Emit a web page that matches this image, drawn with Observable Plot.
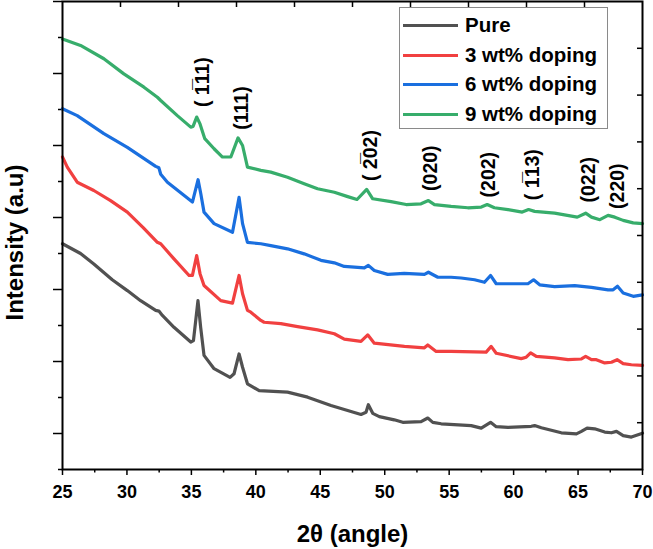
<!DOCTYPE html>
<html><head><meta charset="utf-8">
<script src="https://cdn.jsdelivr.net/npm/d3@7"></script>
<script src="https://cdn.jsdelivr.net/npm/@observablehq/plot@0.6"></script>
<style>
body{margin:0;background:#fff;font-family:"Liberation Sans",Arial,sans-serif;}
#wrap{position:relative;width:653px;height:549px;}
#legend{position:absolute;left:399px;top:7px;width:209px;height:122px;border:1px solid #8a8a8a;background:#fff;box-sizing:border-box;}
.row{position:absolute;left:0;height:20px;width:205px;}
.sw{position:absolute;left:3px;width:55px;height:3px;top:8.5px;}
.lab{position:absolute;left:65px;top:0;font-weight:bold;font-size:20.5px;white-space:nowrap;line-height:20px;color:#000;}
</style>
</head><body>
<div id="wrap"><div id="chart"></div><div id="legend"></div></div>
<script>
const seriesNames = ["Pure","3 wt% doping","6 wt% doping","9 wt% doping"];
const seriesColors = ["#515151","#F14040","#1A6FDF","#37AD6B"];

const pureTheta = [25.0,26.4,27.43,28.86,30.03,31.06,32.23,32.48,32.75,33.65,34.95,35.16,35.51,35.72,35.98,36.76,38.0,38.31,38.7,38.97,39.35,40.26,42.46,44.02,45.83,48.16,48.55,48.73,49.07,49.58,50.74,51.4,52.82,53.34,53.73,54.38,56.71,57.49,58.21,58.65,59.56,61.37,61.63,62.15,63.7,64.87,65.26,65.7,66.29,67.07,67.59,67.98,68.5,69.14,70];
const pureI = [527,500,471,427,397,369,342,340,328,295,254,258,369,295,217,180,156,166,221,184,138,119,115,101,78,53,59,80,56,47,38,31,33,43,31,27,22,15,31,19,17,20,22,16,2,-1,6,15,13,4,2,6,-6,-10,1];

const redTheta = [25.0,25.37,26.14,27.43,28.73,30.03,31.26,32.36,32.62,33.65,34.82,35.08,35.41,35.67,35.98,37.28,38.19,38.7,38.97,39.35,39.61,40.39,40.64,41.94,43.24,44.79,46.09,46.86,48.16,48.68,49.19,51.53,53.08,53.34,53.99,55.15,57.87,58.26,58.65,60.59,60.98,61.32,61.76,63.18,64.22,65.26,65.59,66.04,66.42,67.07,67.59,68.03,68.5,69.14,70];
const redI = [768,740,698,675,647,615,572,531,527,485,439,439,494,444,411,369,362,439,388,342,337,314,309,305,297,288,277,262,256,274,251,242,238,246,228,228,226,242,223,208,212,224,214,210,205,207,214,205,205,196,198,205,194,191,189];

const blueTheta = [25.0,26.14,28.21,30.03,32.23,32.48,32.62,33.14,35.08,35.52,35.73,35.98,36.76,38.19,38.7,38.97,39.35,40.39,41.16,42.46,43.75,45.05,46.09,46.86,48.42,48.73,49.19,50.23,51.52,53.08,53.39,54.12,55.15,55.93,56.97,57.74,58.21,58.65,59.56,61.11,61.55,62.02,63.18,64.74,66.04,67.33,67.72,68.06,68.5,69.28,70];
const blueI = [902,883,833,795,742,738,720,698,643,705,666,615,583,559,656,583,531,527,522,513,499,481,474,464,460,467,453,442,445,442,448,434,434,432,427,420,439,416,416,416,427,413,408,411,406,399,399,409,390,381,385];

const greenTheta = [25.0,26.4,28.21,29.76,31.32,32.36,32.62,33.91,34.95,35.13,35.41,35.67,36.04,36.76,37.41,38.06,38.62,38.97,39.35,40.39,41.16,42.46,43.75,44.79,46.09,47.13,47.85,48.6,49.07,50.49,51.66,52.82,53.39,53.86,55.15,56.45,57.49,57.95,58.51,59.56,60.67,61.16,61.63,63.18,64.94,65.59,66.04,66.69,67.33,67.85,68.5,69.28,70];
const greenI = [1096,1078,1041,999,962,934,925,883,851,853,879,860,819,791,768,768,821,800,740,731,726,712,694,680,670,658,650,678,652,644,636,638,647,636,631,627,629,636,627,622,615,622,617,612,601,612,601,594,606,601,592,585,583];

const peakLabels = ["( 1\u030511)","(111)","( 2\u030502)","(020)","(202)","( 1\u030513)","(022)","(220)"];
const peakTheta = [35.88,38.91,48.89,53.6,58.1,61.45,65.83,68.05];
const peakY = [976,904,772,737,719,719,705,687];

const xMajor = [25,30,35,40,45,50,55,60,65,70];
const xMinor = [27.5,32.5,37.5,42.5,47.5,52.5,57.5,62.5,67.5];
const yMajor = [0,200,400,600,800,1000,1200];
const yMinor = [-100,100,300,500,700,900,1100];
const topTicks = [29.5,34,38.5,43,47.5,52,56.5,61,65.5];
const rightTicks = [30,160,290,420,550,680,810,940,1070];

const allTheta = [pureTheta, redTheta, blueTheta, greenTheta];
const allI = [pureI, redI, blueI, greenI];
const rows = [];
seriesNames.forEach((s, k) => allTheta[k].forEach((t, i) => rows.push({series: s, theta: t, I: allI[k][i]})));
const peaks = peakLabels.map((l, i) => ({label: l, theta: peakTheta[i], y: peakY[i]}));

const blank = () => "";
const chart = Plot.plot({
  width: 653, height: 549,
  marginLeft: 62, marginRight: 11, marginTop: 1, marginBottom: 80,
  style: {fontFamily: "'Liberation Sans', Arial, sans-serif", background: "transparent", color: "#000"},
  x: {domain: [25, 70]},
  y: {domain: [-100, 1200]},
  color: {domain: seriesNames, range: seriesColors},
  marks: [
    Plot.axisX({ticks: xMajor, tickSize: 6, tickPadding: 10, fontSize: 18, fontWeight: "bold", label: null, strokeWidth: 1.5}),
    Plot.axisX({ticks: xMinor, tickSize: 3.5, tickFormat: blank, label: "2θ (angle)", labelAnchor: "center", labelArrow: "none", labelOffset: 72, fontSize: 24, fontWeight: "bold", strokeWidth: 1.5}),
    Plot.axisY({ticks: yMajor, tickSize: 9, tickFormat: blank, label: null, strokeWidth: 1.5}),
    Plot.axisY({ticks: yMinor, tickSize: 4, tickFormat: blank, label: null, strokeWidth: 1.5}),
    Plot.text(["Intensity (a.u)"], {frameAnchor: "left", textAnchor: "middle", text: d => d, rotate: -90, dx: -47, dy: 7, fontSize: 24, fontWeight: "bold", fill: "#000"}),
    Plot.axisX({anchor: "top", ticks: topTicks, tickSize: -5, tickFormat: blank, label: null, strokeWidth: 1.5}),
    Plot.axisY({anchor: "right", ticks: rightTicks, tickSize: -6, tickFormat: blank, label: null, strokeWidth: 1.5}),
    Plot.line(rows, {x: "theta", y: "I", z: "series", stroke: "series", strokeWidth: 3.2, strokeLinejoin: "round"}),
    Plot.text(peaks, {x: "theta", y: "y", text: "label", rotate: -90, fontSize: 19.5, fontWeight: "bold", fill: "#000"}),
    Plot.frame({stroke: "#000", strokeWidth: 2})
  ]
});
document.getElementById("chart").appendChild(chart);

const legend = document.getElementById("legend");
const rowTops = [7, 37, 66, 96];
seriesNames.forEach((s, k) => {
  const r = document.createElement("div");
  r.className = "row";
  r.style.top = rowTops[k] + "px";
  const sw = document.createElement("div");
  sw.className = "sw";
  sw.style.background = seriesColors[k];
  const lab = document.createElement("div");
  lab.className = "lab";
  lab.textContent = s;
  r.appendChild(sw); r.appendChild(lab);
  legend.appendChild(r);
});
</script>
</body></html>
